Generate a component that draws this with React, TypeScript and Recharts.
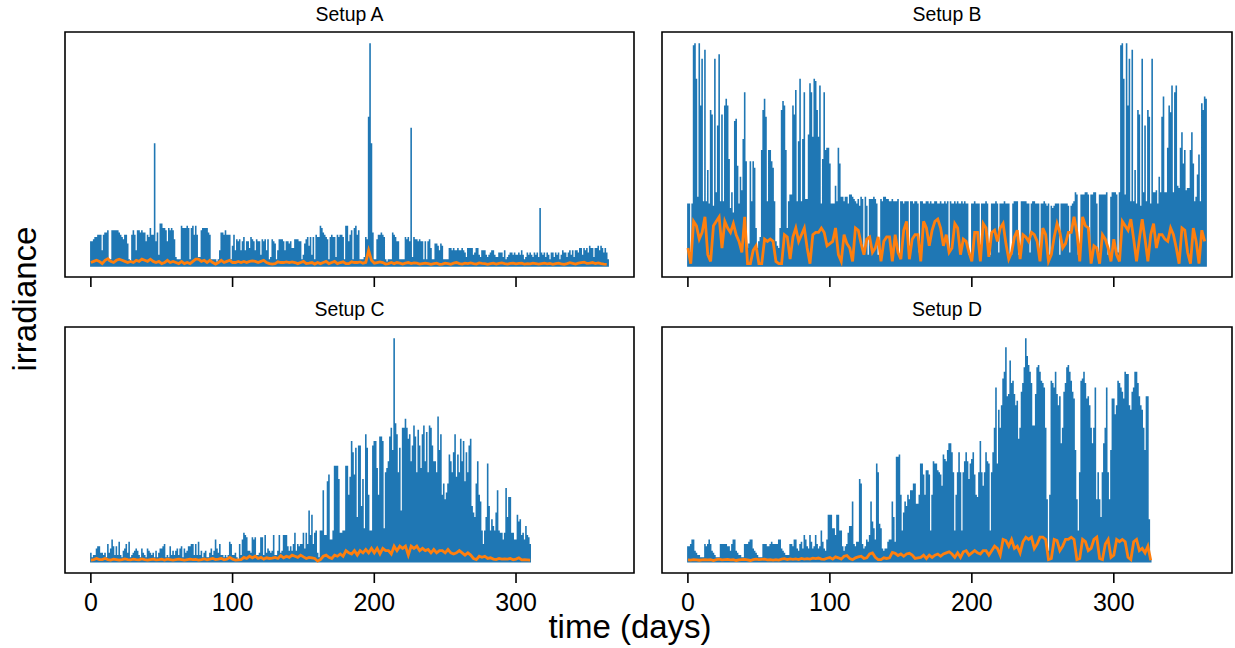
import { LineChart, Line, XAxis, YAxis, ReferenceArea } from "recharts";

// peak of each day, in % of the panel's tallest spike
const blueA = [
  11, 11, 12, 13, 13, 14, 14, 14, 7, 14, 15, 15, 16, 2, 3, 16, 16, 16, 16, 16,
  15, 14, 13, 12, 14, 14, 10, 3, 2, 14, 16, 14, 7, 16, 16, 15, 16, 15, 15, 11,
  14, 13, 17, 14, 14, 55, 11, 15, 5, 19, 19, 17, 17, 16, 11, 17, 16, 17, 16, 12,
  4, 3, 3, 3, 18, 17, 17, 17, 18, 17, 3, 17, 18, 14, 18, 14, 4, 4, 16, 17,
  17, 17, 17, 15, 14, 3, 3, 3, 3, 2, 3, 7, 15, 15, 14, 16, 14, 14, 14, 3,
  9, 14, 7, 12, 11, 12, 7, 11, 13, 7, 11, 11, 8, 13, 12, 11, 7, 12, 11, 11,
  5, 12, 11, 12, 7, 12, 3, 4, 12, 11, 10, 3, 7, 12, 12, 12, 11, 7, 11, 11,
  10, 11, 8, 8, 12, 12, 12, 11, 11, 3, 5, 10, 12, 13, 9, 13, 5, 13, 3, 14,
  13, 13, 18, 17, 15, 14, 13, 12, 3, 13, 14, 13, 13, 4, 14, 13, 14, 14, 13, 3,
  18, 18, 11, 14, 16, 3, 17, 18, 14, 16, 3, 3, 3, 4, 13, 12, 67, 100, 55, 15,
  3, 3, 12, 14, 14, 15, 14, 13, 3, 2, 3, 3, 3, 15, 14, 13, 11, 11, 3, 3,
  3, 3, 13, 12, 13, 11, 62, 4, 13, 12, 12, 11, 12, 11, 11, 3, 11, 3, 11, 12,
  8, 3, 3, 10, 10, 9, 7, 10, 9, 3, 3, 3, 3, 8, 8, 7, 8, 7, 7, 8,
  7, 7, 8, 7, 6, 4, 8, 8, 8, 8, 5, 6, 8, 8, 5, 4, 7, 7, 7, 5,
  4, 5, 6, 7, 7, 5, 4, 4, 6, 6, 6, 4, 7, 3, 4, 5, 6, 6, 5, 6,
  5, 5, 6, 5, 7, 5, 3, 4, 6, 5, 6, 5, 4, 6, 5, 6, 4, 26, 6, 5,
  6, 4, 6, 5, 3, 6, 6, 4, 6, 5, 6, 3, 5, 7, 6, 6, 4, 6, 7, 5,
  7, 4, 7, 7, 6, 8, 8, 5, 8, 7, 8, 6, 9, 8, 8, 4, 8, 8, 9, 7,
  9, 8, 6, 8, 6, 3,
];
const blueB = [
  28, 28, 5, 28, 99, 100, 84, 31, 100, 72, 93, 29, 97, 29, 43, 28, 70, 68, 27, 93,
  33, 63, 95, 29, 68, 29, 72, 75, 72, 48, 26, 33, 24, 65, 66, 45, 28, 40, 34, 57,
  78, 47, 8, 10, 47, 29, 47, 44, 17, 8, 11, 13, 52, 70, 75, 67, 29, 52, 52, 47,
  44, 29, 11, 9, 8, 17, 70, 74, 72, 52, 17, 29, 32, 32, 72, 68, 79, 29, 56, 84,
  29, 57, 78, 30, 30, 59, 82, 78, 58, 84, 83, 70, 58, 81, 28, 48, 78, 52, 53, 53,
  46, 28, 28, 28, 36, 29, 53, 46, 31, 31, 29, 31, 31, 28, 32, 32, 31, 30, 29, 28,
  30, 27, 31, 30, 6, 31, 27, 5, 30, 30, 30, 31, 30, 28, 5, 5, 30, 29, 31, 31,
  30, 30, 29, 29, 30, 29, 29, 29, 30, 5, 29, 29, 28, 29, 29, 29, 5, 29, 29, 28,
  29, 29, 28, 6, 29, 29, 28, 28, 29, 29, 28, 29, 28, 28, 29, 29, 28, 28, 29, 28,
  28, 29, 28, 29, 6, 29, 28, 28, 29, 28, 29, 28, 28, 29, 28, 29, 28, 28, 5, 5,
  28, 28, 29, 28, 28, 28, 6, 28, 28, 28, 29, 28, 5, 5, 28, 28, 28, 29, 28, 6,
  28, 28, 28, 29, 28, 28, 28, 5, 5, 28, 29, 29, 29, 5, 5, 29, 29, 29, 29, 28,
  28, 6, 28, 29, 29, 28, 28, 28, 5, 28, 28, 29, 28, 27, 28, 5, 27, 26, 27, 28,
  28, 28, 5, 28, 28, 28, 28, 28, 27, 6, 27, 28, 29, 33, 32, 5, 5, 32, 32, 32,
  33, 33, 32, 6, 32, 32, 33, 33, 28, 6, 32, 32, 32, 32, 32, 33, 5, 5, 31, 33,
  33, 33, 32, 6, 33, 99, 100, 84, 32, 100, 72, 93, 29, 97, 29, 43, 28, 70, 68, 27,
  93, 33, 63, 29, 70, 67, 28, 93, 33, 33, 34, 28, 40, 33, 67, 76, 33, 33, 53, 72,
  69, 81, 33, 78, 81, 36, 35, 53, 60, 46, 52, 34, 35, 35, 52, 60, 46, 29, 31, 41,
  50, 29, 73, 70, 76, 75,
];
const blueC = [
  4, 2, 3, 3, 6, 7, 7, 4, 4, 3, 4, 2, 8, 4, 6, 10, 7, 3, 7, 3,
  9, 3, 2, 5, 6, 8, 4, 9, 2, 3, 4, 5, 6, 5, 3, 2, 6, 4, 3, 2,
  6, 5, 4, 3, 4, 2, 5, 2, 4, 6, 6, 7, 8, 2, 3, 2, 7, 3, 5, 3,
  5, 6, 3, 6, 7, 2, 6, 4, 5, 7, 7, 8, 8, 3, 8, 3, 9, 3, 5, 2,
  4, 5, 2, 2, 4, 6, 3, 5, 10, 6, 4, 8, 3, 3, 2, 3, 2, 3, 9, 8,
  3, 3, 4, 2, 1, 8, 3, 10, 13, 12, 11, 5, 5, 4, 11, 10, 11, 3, 3, 4,
  11, 11, 3, 12, 4, 6, 5, 4, 5, 12, 3, 3, 5, 12, 4, 5, 12, 12, 12, 7,
  5, 7, 5, 8, 13, 5, 8, 7, 8, 8, 13, 6, 13, 8, 23, 12, 21, 8, 13, 14,
  4, 2, 14, 14, 32, 12, 12, 36, 39, 10, 10, 14, 43, 43, 43, 37, 13, 13, 14, 14,
  43, 43, 30, 38, 54, 49, 39, 51, 20, 52, 52, 25, 37, 15, 57, 51, 30, 14, 14, 52,
  54, 54, 42, 30, 56, 56, 54, 15, 40, 42, 45, 56, 60, 50, 100, 62, 57, 40, 51, 23,
  60, 60, 64, 60, 55, 57, 45, 52, 61, 56, 40, 59, 52, 42, 57, 61, 45, 58, 40, 61,
  60, 52, 45, 45, 40, 65, 50, 57, 30, 35, 28, 31, 35, 48, 45, 40, 49, 57, 38, 48,
  40, 55, 45, 54, 36, 49, 40, 52, 55, 25, 22, 20, 35, 45, 30, 27, 14, 8, 14, 20,
  44, 25, 14, 19, 16, 14, 22, 32, 14, 13, 13, 10, 13, 33, 20, 29, 29, 13, 13, 10,
  10, 21, 18, 19, 12, 13, 10, 16, 12, 11, 8,
];
const blueD = [
  7, 7, 8, 10, 10, 5, 4, 3, 3, 2, 2, 2, 8, 7, 8, 10, 8, 5, 4, 3,
  2, 2, 2, 8, 8, 8, 8, 8, 7, 7, 5, 8, 10, 10, 5, 4, 3, 3, 2, 2,
  8, 8, 8, 9, 10, 10, 6, 5, 4, 3, 2, 2, 2, 8, 8, 8, 7, 7, 8, 9,
  8, 8, 8, 8, 10, 10, 6, 5, 4, 3, 3, 3, 8, 8, 7, 10, 10, 6, 5, 8,
  9, 6, 12, 10, 7, 6, 12, 9, 6, 7, 12, 8, 6, 7, 14, 9, 6, 5, 10, 21,
  21, 21, 15, 15, 12, 21, 21, 14, 14, 7, 5, 7, 8, 13, 16, 16, 27, 8, 7, 9,
  9, 37, 35, 8, 6, 7, 10, 9, 12, 27, 18, 15, 10, 44, 40, 17, 15, 6, 5, 6,
  6, 9, 10, 10, 27, 20, 9, 47, 47, 48, 30, 14, 22, 27, 25, 30, 28, 32, 32, 35,
  35, 26, 26, 30, 44, 44, 39, 30, 41, 41, 39, 14, 30, 45, 44, 44, 41, 40, 39, 34,
  48, 46, 45, 50, 53, 53, 49, 40, 14, 30, 40, 49, 40, 14, 40, 45, 49, 45, 37, 44,
  46, 49, 39, 30, 29, 40, 54, 40, 34, 40, 49, 45, 44, 14, 40, 49, 60, 78, 44, 68,
  60, 70, 82, 85, 96, 74, 75, 90, 80, 81, 75, 70, 72, 55, 60, 76, 80, 87, 100, 92,
  88, 85, 80, 61, 61, 75, 87, 88, 85, 81, 80, 78, 60, 28, 5, 30, 81, 80, 78, 85,
  75, 70, 74, 53, 60, 76, 80, 87, 88, 85, 81, 76, 73, 50, 28, 14, 40, 81, 82, 85,
  80, 73, 74, 70, 60, 53, 60, 78, 28, 40, 28, 20, 40, 53, 60, 78, 40, 28, 50, 73,
  73, 66, 70, 81, 80, 78, 76, 73, 85, 84, 84, 70, 68, 76, 78, 85, 85, 80, 74, 70,
  68, 60, 50, 74, 74, 19, 1,
];

// smoothed series, one reading every 2 days
const orangeA = [
  1.5, 2, 2.5, 2, 1, 2.5, 3.2, 2, 1.5, 2.5, 3, 2.5, 2, 1.5, 2, 1.5, 2.5, 2, 3, 2.5,
  2, 3, 2, 1.5, 2, 1, 1.5, 2.5, 1.5, 2, 1.5, 1, 2, 1, 1.5, 1, 2, 3, 3, 2,
  2.5, 1.5, 2.5, 1.5, 0.8, 1.5, 2.5, 1.5, 2, 2.5, 1.5, 1.5, 2, 1.5, 2, 1.5, 2, 2.2, 2, 1.5,
  2, 2.5, 1.5, 1, 0.8, 1, 1.8, 1.5, 1.5, 1.8, 1.5, 1.8, 1.5, 1, 1.5, 2, 1, 1.2, 1.5, 0.8,
  1.5, 1, 1.5, 2, 1, 1.5, 2, 1, 1.5, 1.8, 1, 1, 1.8, 1.5, 1.5, 1.8, 1.2, 1.6, 7, 2.5,
  1.2, 1.5, 1.8, 1.5, 0.8, 1, 1.5, 1, 1.5, 1.2, 0.8, 1.2, 1.5, 1, 1.3, 1.2, 0.8, 1, 1.2, 1,
  0.7, 1, 1.2, 0.7, 0.8, 1.2, 1, 0.7, 1.2, 1.5, 1, 0.8, 1.2, 1, 1.3, 1, 0.8, 1.3, 1.1, 1,
  0.7, 1, 1.2, 0.8, 1.1, 1.3, 1, 0.8, 1.1, 1.2, 0.9, 1.1, 1.2, 0.8, 1, 0.9, 1.2, 1, 0.8, 1,
  1.2, 0.9, 1.1, 0.7, 1, 1.2, 0.9, 0.7, 1, 1.4, 1.1, 0.8, 1.2, 1.5, 1.7, 1.1, 1.2, 1.5, 1, 1.3,
  1, 0.8, 0.7,
];
const orangeB = [
  8, 1, 20, 18, 12, 15, 22, 5, 2, 18, 20, 22, 8, 20, 17, 15, 19, 14, 11, 6,
  22, 1, 1, 7, 9, 1, 1, 12, 11, 12, 11, 2, 1, 1, 14, 13, 3, 13, 17, 11,
  14, 17, 8, 1, 14, 15, 15, 17, 15, 9, 10, 11, 17, 5, 2, 14, 10, 8, 2, 17,
  16, 10, 5, 12, 13, 6, 8, 13, 2, 11, 13, 13, 2, 14, 6, 3, 16, 20, 3, 12,
  14, 14, 2, 20, 17, 9, 16, 20, 21, 17, 9, 14, 6, 8, 19, 17, 5, 12, 11, 6,
  2, 15, 15, 2, 19, 17, 4, 15, 16, 11, 17, 19, 10, 3, 6, 13, 16, 3, 14, 13,
  11, 15, 14, 11, 2, 17, 14, 2, 5, 13, 19, 15, 8, 10, 15, 15, 22, 15, 2, 22,
  18, 17, 1, 9, 8, 1, 14, 12, 8, 2, 12, 5, 2, 20, 18, 16, 21, 12, 2, 12,
  21, 12, 2, 14, 19, 8, 14, 14, 12, 11, 17, 14, 8, 1, 17, 16, 6, 1, 17, 11,
  1, 16, 11,
];
const orangeC = [
  0.8, 1, 1.5, 1, 1, 1.5, 1, 0.8, 1.2, 1, 0.8, 1, 1.3, 1, 0.9, 1.2, 1, 0.9, 1.3, 1,
  0.8, 1, 1.2, 0.9, 1, 1.2, 0.8, 1.2, 1, 0.8, 1, 1.2, 1, 0.8, 1, 1.2, 1, 1.1, 0.8, 1,
  1.3, 0.9, 1.2, 1.5, 1, 1.2, 1.5, 0.9, 1.2, 2, 1.2, 0.8, 0.9, 1, 2, 1.5, 2.5, 1.8, 2.5, 1.5,
  2, 1.2, 1.8, 1.5, 1.7, 2, 1.5, 2.8, 1.8, 2.5, 2, 3, 2.5, 2, 3, 2.2, 1.5, 2, 1.8, 1.5,
  0.3, 1, 2.5, 3, 2, 1.5, 3, 2.5, 3.5, 2.5, 5, 4, 3.5, 5, 3, 5, 4, 5.5, 4, 6,
  4, 6, 3.5, 6, 5, 5, 3.5, 7, 5, 7, 6, 7, 3, 7, 6, 7, 5, 6, 5, 5.5,
  4, 5.5, 4, 5, 5, 4, 5.5, 4, 3.5, 4, 5, 4, 3, 4, 3, 1.5, 1, 2.5, 2, 2.5,
  1.5, 1.8, 1.2, 1, 1.5, 1.2, 1.3, 1.2, 1.5, 0.9, 1.2, 1.8, 0.9, 1, 0.9, 0.8,
];
const orangeD = [
  0.9, 0.8, 1, 0.9, 0.7, 0.9, 1, 0.9, 1, 0.6, 1, 1.2, 0.9, 1, 1.1, 0.9, 1, 0.6,
  0.9, 1, 1.1, 0.9, 0.6, 1, 1.2, 1, 1.1, 1.2, 0.9, 1, 0.8, 1, 0.8, 1.2, 1.4, 1, 1.3, 1.1,
  1.3, 1, 1.5, 1.2, 1.4, 1.2, 1.6, 1.4, 1.7, 1.2, 1.1, 1.6, 1.9, 1.2, 2.2, 1.8, 1.2, 2.5, 2.8, 1.5,
  1, 1.8, 2.2, 2.5, 1.5, 1.8, 3.5, 4, 2, 1, 1, 1.8, 1.5, 1.8, 4.2, 3.8, 2.8, 3.5, 2.5, 3.5,
  3.8, 3, 1.5, 1.8, 2, 3, 1.5, 3, 2, 3, 3.5, 2.5, 3.5, 4, 4.5, 3.5, 2, 4, 2, 4.5,
  5, 3, 4, 5, 4, 3.5, 5, 5, 3, 5, 7, 6, 3, 10, 9.5, 7, 10, 6, 7, 4,
  9, 11, 10, 11, 6, 8, 11, 11, 10, 1, 1.5, 10, 9.5, 5, 7, 10, 10, 11, 10, 1,
  1.5, 10, 9, 5, 6, 10, 11, 1.5, 1, 8, 10, 2, 3, 10, 9, 10, 9, 2, 1, 9,
  10, 5, 6, 4, 7, 0.7,
];

const xTicks = [0, 100, 200, 300];
const panelNames = ["Setup A", "Setup B", "Setup C", "Setup D"];
const FONT = '"Liberation Sans", Arial, sans-serif';

function spikes(values: number[]) {
  return values.flatMap((v, day) => [
    { day, value: 0 },
    { day, value: v },
    { day, value: 0 },
  ]);
}

function everyTwoDays(values: number[]) {
  return values.map((value, i) => ({ day: i * 2, value }));
}

function Panel({
  title,
  blue,
  orange,
  left,
  top,
  width,
  height,
  labels,
}: {
  title: string;
  blue: number[];
  orange: number[];
  left: number;
  top: number;
  width: number;
  height: number;
  labels: boolean;
}) {
  return (
    <div style={{ position: "absolute", left: left - 2, top: top - 2 }}>
      <LineChart
        width={width + 4}
        height={height + 62}
        margin={{ top: 2, right: 2, left: 2, bottom: 0 }}
      >
        <XAxis
          dataKey="day"
          type="number"
          domain={[-18.25, 383.25]}
          ticks={xTicks}
          allowDuplicatedCategory={true}
          height={60}
          tickSize={10}
          tickMargin={10}
          tickLine={{ stroke: "#000", strokeWidth: 1.6 }}
          axisLine={false}
          tick={{ fill: "#000", fontSize: 25, fontFamily: FONT }}
          tickFormatter={(v: number) => (labels ? String(v) : "")}
        />
        <YAxis hide type="number" domain={[-5, 105]} />
        <Line
          data={spikes(blue)}
          dataKey="value"
          stroke="#1f77b4"
          strokeWidth={1.6}
          dot={false}
          isAnimationActive={false}
        />
        <Line
          data={everyTwoDays(orange)}
          dataKey="value"
          stroke="#ff7f0e"
          strokeWidth={2.8}
          dot={false}
          isAnimationActive={false}
        />
        <ReferenceArea
          x1={-18.25}
          x2={383.25}
          y1={-5}
          y2={105}
          fill="none"
          stroke="#000"
          strokeWidth={1.6}
          ifOverflow="visible"
        />
      </LineChart>
      <div
        style={{
          position: "absolute",
          left: 0,
          width: width + 4,
          top: -28,
          textAlign: "center",
          fontFamily: FONT,
          fontSize: 19.4,
          lineHeight: "24px",
          color: "#000",
        }}
      >
        {title}
      </div>
    </div>
  );
}

export default function App() {
  return (
    <div style={{ position: "absolute", left: 0, top: 0, width: 1235, height: 648, background: "#fff", overflow: "hidden" }}>
      <Panel title={panelNames[0]} blue={blueA} orange={orangeA} left={65} top={32} width={569} height={245} labels={false} />
      <Panel title={panelNames[1]} blue={blueB} orange={orangeB} left={662} top={32} width={570} height={245} labels={false} />
      <Panel title={panelNames[2]} blue={blueC} orange={orangeC} left={65} top={327} width={569} height={246} labels={true} />
      <Panel title={panelNames[3]} blue={blueD} orange={orangeD} left={662} top={327} width={570} height={246} labels={true} />
      <div
        style={{
          position: "absolute",
          left: 25,
          top: 299,
          transform: "translate(-50%, -50%) rotate(-90deg)",
          fontFamily: FONT,
          fontSize: 33,
          lineHeight: "30px",
          whiteSpace: "nowrap",
          color: "#000",
        }}
      >
        irradiance
      </div>
      <div
        style={{
          position: "absolute",
          left: 630,
          top: 627,
          transform: "translate(-50%, -50%)",
          fontFamily: FONT,
          fontSize: 33,
          lineHeight: "28px",
          whiteSpace: "nowrap",
          color: "#000",
        }}
      >
        time (days)
      </div>
    </div>
  );
}
